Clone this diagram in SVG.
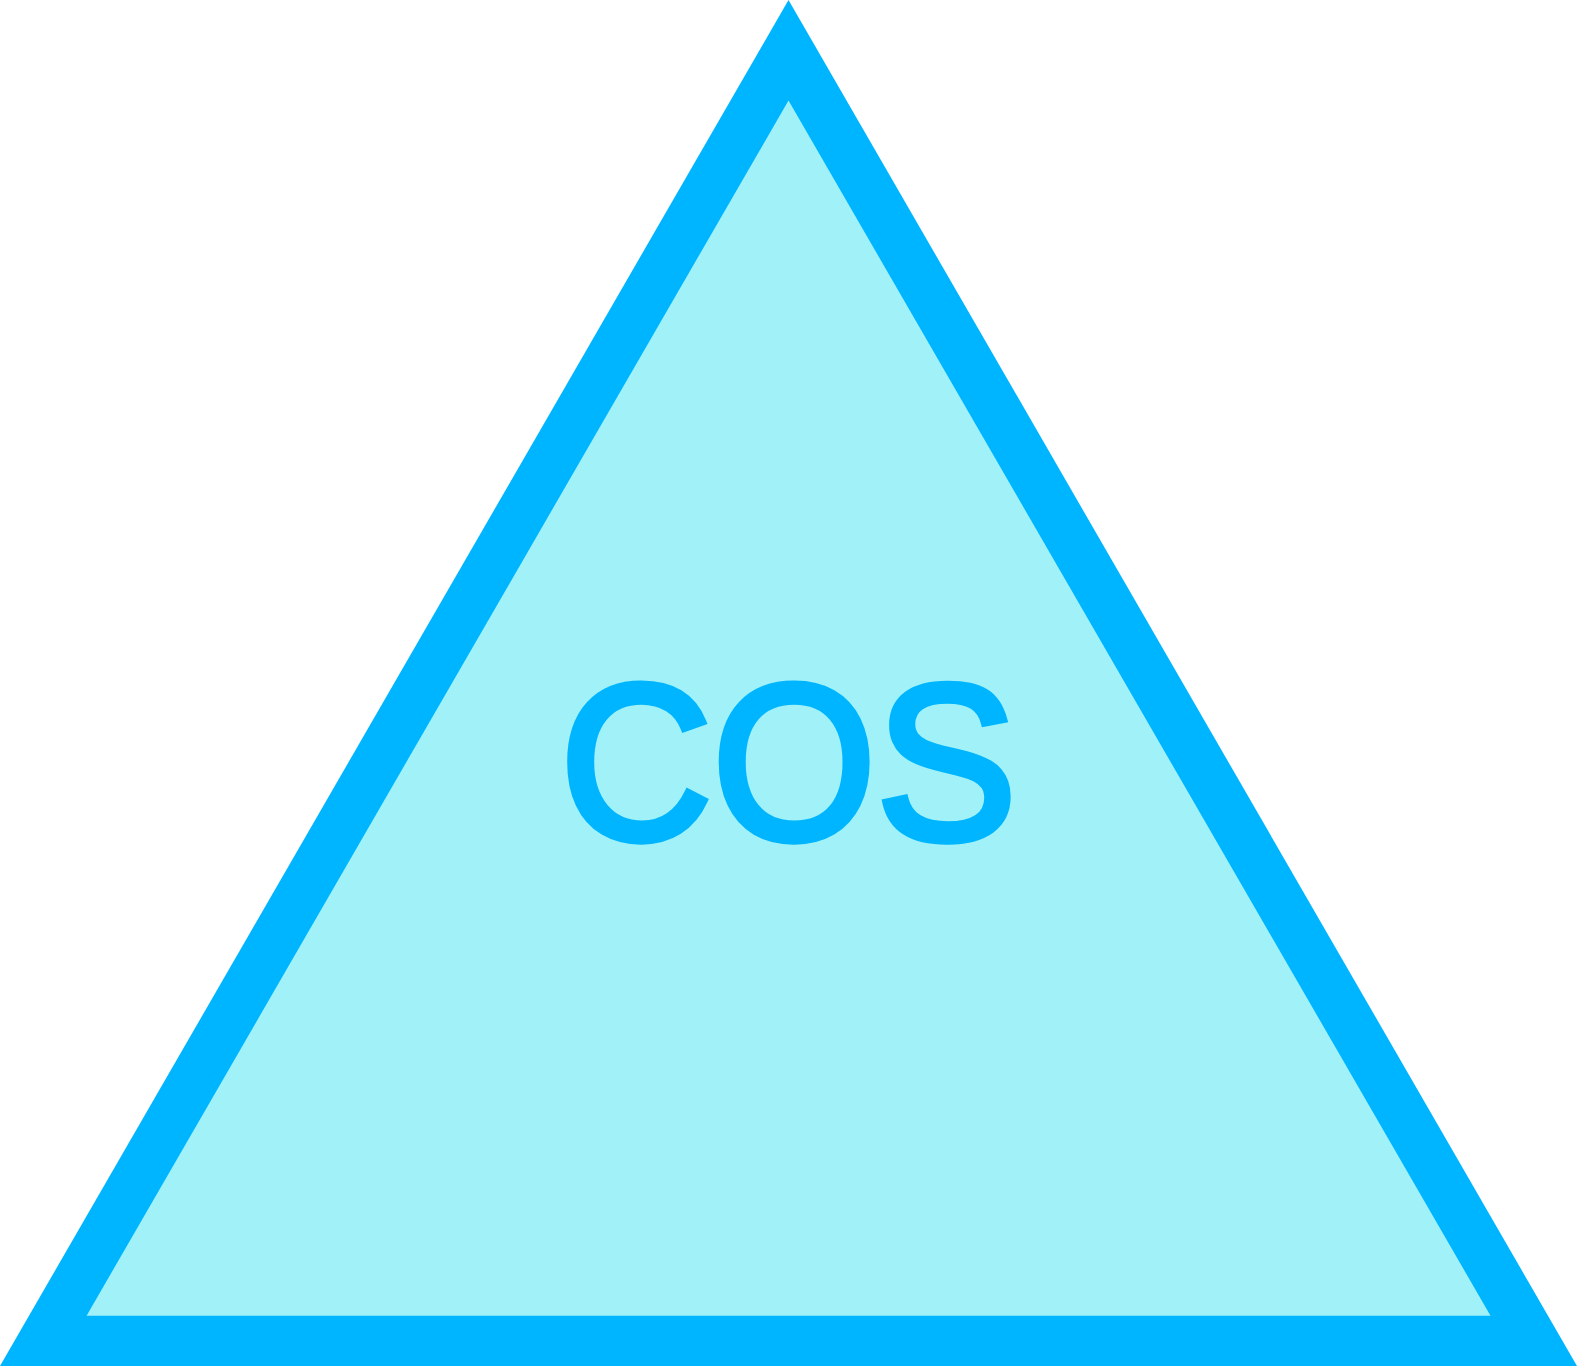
<svg xmlns="http://www.w3.org/2000/svg" width="1577" height="1366" viewBox="0 0 1577 1366">
<style>
.outer{fill:#00B5FF}
.inner{fill:#A0F2F8}
.label{font-size:210.7px;fill:#00B5FF;stroke:#00B5FF;stroke-width:7;stroke-linejoin:miter}
</style>
<rect width="1577" height="1366" fill="#FFFFFF"/>
<g id="node-cos">
<polygon class="outer" points="788.5,0 1577,1366 0,1366"/>
<polygon class="inner" points="788.5,100.5 1490.5,1315.7 86.6,1315.7"/>
<text class="label" font-family="'Liberation Sans', Arial, sans-serif" transform="translate(788.4,838.5) scale(1,1.044)" x="0" y="0" text-anchor="middle">COS</text>
</g>
<g id="connectors"/>
</svg>
